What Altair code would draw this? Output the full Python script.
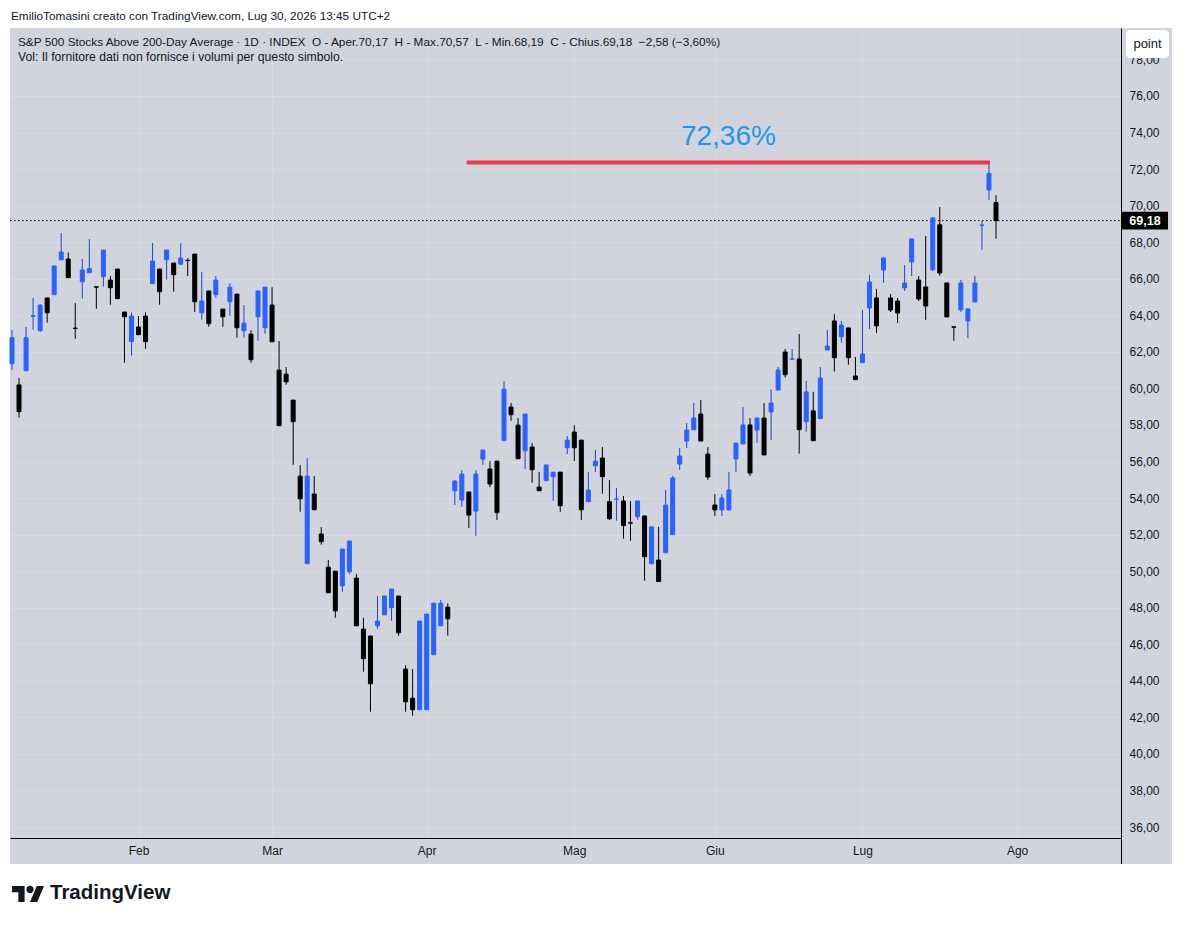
import json
import altair as alt
import pandas as pd

# ---------------- data ----------------
O = [61.35, 60.19, 60.97, 63.94, 63.16, 64.95, 65.13, 67.04, 67.08, 63.30,
     65.84, 66.33, 65.56, 66.11, 65.93, 66.53, 64.18, 62.56, 63.36, 63.96,
     65.73, 66.53, 67.04, 66.86, 66.80, 67.01, 67.35, 64.14, 65.33, 65.13,
     64.34, 64.74, 65.16, 63.16, 62.97, 63.92, 63.32, 64.56, 61.00, 60.78,
     59.36, 55.20, 50.41, 54.22, 52.03, 50.22, 50.00, 49.20, 49.97, 49.62,
     46.83, 46.45, 47.01, 47.61, 48.00, 48.64, 44.64, 43.05, 42.42, 42.42,
     45.43, 47.01, 48.03, 54.40, 53.89, 54.33, 53.29, 56.13, 55.59, 56.02,
     57.14, 58.98, 57.99, 56.59, 56.79, 54.60, 54.95, 55.17, 55.42, 56.75,
     57.61, 57.17, 53.80, 55.77, 56.19, 53.80, 53.93, 53.84, 52.65, 52.98,
     53.02, 50.41, 50.61, 51.01, 52.00, 55.86, 57.12, 57.74, 58.60, 56.41,
     53.62, 53.35, 53.35, 56.14, 56.96, 58.00, 57.72, 58.38, 58.71, 59.91,
     61.99, 61.60, 61.61, 58.18, 58.77, 58.35, 62.10, 63.69, 62.83, 63.31,
     60.68, 61.41, 64.40, 64.95, 66.48, 64.95, 64.78, 65.50, 66.92, 65.93,
     65.55, 66.48, 68.95, 65.77, 63.37, 64.30, 63.69, 64.73, 68.92, 70.86,
     70.17]
H = [63.20, 60.57, 63.36, 64.95, 64.60, 64.95, 66.72, 68.50, 67.44, 64.67,
     67.08, 68.17, 65.56, 67.57, 66.15, 66.53, 64.18, 64.16, 63.96, 64.16,
     67.96, 66.53, 67.57, 66.86, 67.95, 67.13, 67.35, 66.37, 65.33, 66.15,
     64.34, 65.76, 65.16, 64.56, 63.19, 65.33, 65.54, 65.54, 62.59, 61.17,
     59.36, 55.80, 56.19, 55.20, 52.41, 50.61, 50.00, 51.21, 51.65, 49.84,
     47.45, 46.45, 48.64, 48.64, 49.02, 48.64, 44.86, 44.64, 47.27, 47.65,
     48.25, 48.42, 48.25, 54.98, 55.53, 54.33, 55.53, 56.63, 56.02, 56.02,
     60.40, 59.20, 58.38, 58.60, 57.01, 55.42, 55.81, 55.42, 55.42, 57.39,
     57.99, 57.17, 55.42, 56.63, 56.79, 54.98, 54.55, 54.11, 53.84, 53.84,
     53.02, 52.42, 52.42, 54.44, 55.21, 56.74, 58.11, 59.20, 59.37, 56.79,
     54.22, 54.22, 55.43, 57.01, 58.98, 58.38, 58.38, 59.20, 59.95, 61.17,
     62.16, 62.16, 62.98, 60.41, 59.81, 61.17, 63.20, 64.07, 63.69, 63.31,
     61.72, 64.29, 66.21, 65.44, 67.14, 65.17, 64.95, 66.75, 68.18, 66.15,
     68.34, 69.33, 69.93, 65.77, 63.37, 65.94, 64.35, 66.16, 69.16, 72.36,
     70.57]
L = [61.00, 58.40, 60.97, 63.21, 63.10, 63.60, 65.13, 67.04, 66.06, 62.72,
     64.91, 66.33, 64.36, 65.57, 64.58, 64.91, 61.41, 61.79, 62.94, 62.17,
     65.73, 64.58, 65.95, 65.29, 66.75, 66.15, 64.19, 63.76, 63.37, 64.96,
     63.37, 63.98, 62.77, 62.77, 61.40, 62.61, 62.99, 62.55, 57.96, 60.20,
     55.82, 53.25, 50.41, 53.36, 51.45, 48.82, 47.45, 48.87, 49.86, 47.01,
     44.50, 42.31, 46.85, 47.61, 47.29, 46.47, 42.31, 42.09, 42.42, 42.42,
     45.43, 47.01, 46.47, 53.62, 53.51, 52.36, 51.92, 55.81, 54.60, 52.80,
     57.14, 58.23, 56.15, 55.59, 54.84, 54.40, 54.95, 53.85, 53.25, 56.41,
     56.02, 52.80, 53.80, 55.42, 54.24, 52.80, 52.76, 51.78, 51.67, 52.82,
     49.48, 50.41, 49.43, 51.01, 52.00, 55.54, 56.74, 57.74, 57.12, 54.99,
     53.02, 53.02, 53.35, 55.43, 56.96, 55.21, 57.01, 56.36, 57.18, 59.91,
     60.59, 61.55, 56.43, 57.63, 57.14, 58.35, 62.10, 60.92, 62.50, 61.30,
     60.48, 61.41, 63.25, 63.03, 65.77, 64.18, 63.58, 65.33, 66.15, 64.78,
     63.75, 66.48, 66.16, 63.91, 62.60, 64.19, 62.76, 64.73, 67.58, 70.31,
     68.19]
C = [62.77, 58.73, 62.78, 63.98, 64.56, 64.14, 66.70, 67.46, 66.06, 63.28,
     66.48, 66.55, 65.54, 67.57, 65.51, 64.91, 63.92, 63.96, 62.94, 62.56,
     66.97, 65.29, 67.57, 66.22, 67.13, 66.99, 64.74, 64.78, 63.54, 65.93,
     63.92, 65.54, 63.32, 63.57, 61.57, 65.33, 65.54, 62.55, 57.96, 60.36,
     58.18, 53.96, 55.20, 53.36, 51.61, 48.82, 47.83, 51.21, 51.65, 47.01,
     45.21, 43.84, 47.27, 48.64, 49.02, 46.63, 42.85, 42.42, 47.27, 47.65,
     48.25, 48.25, 47.40, 54.93, 55.31, 53.07, 55.31, 56.63, 54.77, 53.20,
     59.96, 58.56, 56.15, 58.60, 55.55, 54.40, 55.81, 55.42, 53.58, 57.17,
     56.75, 53.36, 54.44, 56.02, 55.17, 52.87, 53.95, 52.49, 52.63, 53.84,
     50.79, 52.42, 49.43, 53.62, 55.10, 56.30, 57.72, 58.38, 57.12, 55.15,
     53.35, 54.00, 54.44, 57.01, 58.00, 55.37, 58.38, 56.36, 59.20, 61.01,
     60.75, 61.62, 57.74, 59.81, 57.14, 60.57, 62.32, 61.68, 63.47, 61.68,
     60.48, 61.88, 65.82, 63.42, 67.14, 64.29, 64.13, 65.77, 68.18, 64.89,
     64.51, 69.33, 66.32, 63.91, 63.35, 65.77, 64.35, 65.77, 68.94, 71.76,
     69.18]

MONTH_IDX = [18, 37, 59, 80, 100, 121, 143]
MONTH_LBL = ["Feb", "Mar", "Apr", "Mag", "Giu", "Lug", "Ago"]
Y_TICKS = list(range(36, 80, 2))

LEVEL = 72.36
LEVEL_START = 64.7
LEVEL_END = 139.15

TITLE_TOP = "EmilioTomasini creato con TradingView.com, Lug 30, 2026 13:45 UTC+2"
SYMBOL = "S&P 500 Stocks Above 200-Day Average · 1D · INDEX"
VOL_TEXT = "Vol: Il fornitore dati non fornisce i volumi per questo simbolo."

# ---------------- style ----------------
FONT = "Liberation Sans"
BG = "#d1d4dc"
GRID = "#d8dbe2"
BLUE = "#2962ff"
WICK_BLUE = "#1c46d0"
RED = "#f23645"
LBLUE = "#2196f3"
TXT = "#131722"
W, HH = 1111, 810


def it(v):
    return f"{v:.2f}".replace(".", ",")


df = pd.DataFrame({"i": list(range(len(O))), "o": O, "h": H, "l": L, "c": C})

chg = C[-1] - C[-2]
pct = chg / C[-2] * 100
sp = "\u00a0\u00a0"
header1 = (f"{SYMBOL}{sp}O - Aper.{it(O[-1])}{sp}H - Max.{it(H[-1])}{sp}"
           f"L - Min.{it(L[-1])}{sp}C - Chius.{it(C[-1])}{sp}"
           f"\u2212{it(abs(chg))} (\u2212{it(abs(pct))}%)")

last_df = pd.DataFrame({"c": [C[-1]], "b0": [C[-1] - 0.49], "b1": [C[-1] + 0.49],
                        "lbl": [it(C[-1])]})
lvl_df = pd.DataFrame({"xs": [LEVEL_START], "xe": [LEVEL_END],
                       "xm": [(LEVEL_START + LEVEL_END) / 2], "v": [LEVEL],
                       "t": [it(LEVEL) + "%"]})

px_per = 984 / 140
d0 = -2 / px_per
d1 = d0 + W / px_per
xscale = alt.Scale(domain=[d0, d1], nice=False, zero=False, padding=0)
yscale = alt.Scale(domain=[35.40, 79.72], nice=False, zero=False, padding=0)

xaxis = alt.Axis(values=MONTH_IDX,
                 labelExpr=f"{json.dumps(MONTH_LBL)}[indexof({json.dumps(MONTH_IDX)}, datum.value)]",
                 title=None, ticks=False, grid=True, gridColor=GRID, gridWidth=1,
                 domainColor="#000000", domainWidth=1, labelFont=FONT,
                 labelFontSize=12, labelColor=TXT, labelPadding=7,
                 labelFlush=False, labelOverlap=False)
yaxis = alt.Axis(values=Y_TICKS, orient="right",
                 labelExpr="replace(format(datum.value, '.2f'), '.', ',')",
                 title=None, ticks=False, grid=True, gridColor=GRID, gridWidth=1,
                 domainColor="#000000", domainWidth=1, labelFont=FONT,
                 labelFontSize=12, labelColor=TXT, labelPadding=8,
                 labelFlush=False, labelOverlap=False, labelAlign="left")


def X(f):
    return alt.X(f"{f}:Q", scale=xscale, axis=xaxis)


def Y(f):
    return alt.Y(f"{f}:Q", scale=yscale, axis=yaxis)


dummy = alt.Data(values=[{"a": 1}])

def band(x0, x1, y0, y1, color="#ffffff"):
    return alt.Chart(dummy).mark_rect(color=color).encode(
        x=alt.value(x0), x2=alt.value(x1), y=alt.value(y0), y2=alt.value(y1))

bands = [band(-2, 1170, -20, 0), band(-2, 0, -20, 900), band(1162, 1170, -20, 900),
         band(-2, 1170, 836, 900)]

side_rule = alt.Chart(dummy).mark_rule(color="#000000", strokeWidth=1).encode(
    x=alt.value(W + 0.5), y=alt.value(HH), y2=alt.value(836))

dotted = alt.Chart(last_df).mark_rule(color="#000000", strokeWidth=1, strokeDash=[1.5, 2.5]).encode(
    y=Y("c"), x=alt.value(0), x2=alt.value(W))

up = "datum.c >= datum.o"
wicks = alt.Chart(df).mark_rule(strokeWidth=1).encode(
    x=X("i"), y=Y("l"), y2="h",
    color=alt.condition(up, alt.value(WICK_BLUE), alt.value("#000000")))
bodies = alt.Chart(df).mark_bar(size=4, strokeWidth=1).encode(
    x=X("i"), y=Y("o"), y2="c",
    color=alt.condition(up, alt.value(BLUE), alt.value("#000000")),
    stroke=alt.condition(up, alt.value(BLUE), alt.value("#000000")))

level_line = alt.Chart(lvl_df).mark_rule(color=RED, strokeWidth=4).encode(
    x=X("xs"), x2="xe", y=Y("v"))
level_text = alt.Chart(lvl_df).mark_text(font=FONT, fontSize=28, color=LBLUE, dy=-26,
                                         baseline="middle", align="center").encode(
    x=X("xm"), y=Y("v"), text="t:N")

price_box = alt.Chart(last_df).mark_rect(color="#000000").encode(
    x=alt.value(W + 1), x2=alt.value(W + 47), y=Y("b0"), y2="b1")
price_txt = alt.Chart(last_df).mark_text(font=FONT, fontSize=12.5, fontWeight="bold",
                                         color="#ffffff", align="center", baseline="middle").encode(
    x=alt.value(W + 24), y=Y("c"), text="lbl:N")

point_box = alt.Chart(dummy).mark_rect(color="#ffffff", cornerRadius=4).encode(
    x=alt.value(1116), x2=alt.value(1159), y=alt.value(2), y2=alt.value(30))
point_txt = alt.Chart(dummy).mark_text(font=FONT, fontSize=13, color=TXT, align="center",
                                       baseline="middle").encode(
    x=alt.value(1137.5), y=alt.value(16), text=alt.value("point"))

def label(txt, x, y, size=12, weight="normal"):
    return alt.Chart(dummy).mark_text(font=FONT, fontSize=size, fontWeight=weight, color=TXT,
                                      align="left", baseline="middle").encode(
        x=alt.value(x), y=alt.value(y), text=alt.value(txt))

top_txt = label(TITLE_TOP, 1, -12.5, 11.8)
h1 = label(header1, 8, 13.5, 11.8)
h2 = label(VOL_TEXT, 8, 29, 12.2)

LOGO = ("M-0.2113,0.507 L-0.6056,0.507 L-0.6056,-0.1127 L-1,-0.1127 L-1,-0.507 L-0.2113,-0.507 Z "
        "M0.5775,0.507 L0.1268,0.507 L0.5493,-0.507 L1,-0.507 Z "
        "M0.3521,-0.2817 A0.2254,0.2254 0 1,1 -0.0986,-0.2817 A0.2254,0.2254 0 1,1 0.3521,-0.2817 Z")
logo = alt.Chart(dummy).mark_point(shape=LOGO, filled=True, color=TXT, opacity=1,
                                   size=1024, strokeWidth=0).encode(
    x=alt.value(18), y=alt.value(866))
logo_txt = label("TradingView", 40, 865, 20.5, "bold")

chart = alt.layer(
    *bands, side_rule, dotted, wicks, bodies, level_line, level_text,
    price_box, price_txt, point_box, point_txt, top_txt, h1, h2, logo, logo_txt
).properties(
    width=W, height=HH,
    autosize=alt.AutoSizeParams(type="none"),
    padding={"left": 2, "top": 20, "right": 53, "bottom": 70},
    background=BG,
).configure_view(strokeWidth=0)

chart.save("out.html", embed_options={"renderer": "svg", "actions": False})
